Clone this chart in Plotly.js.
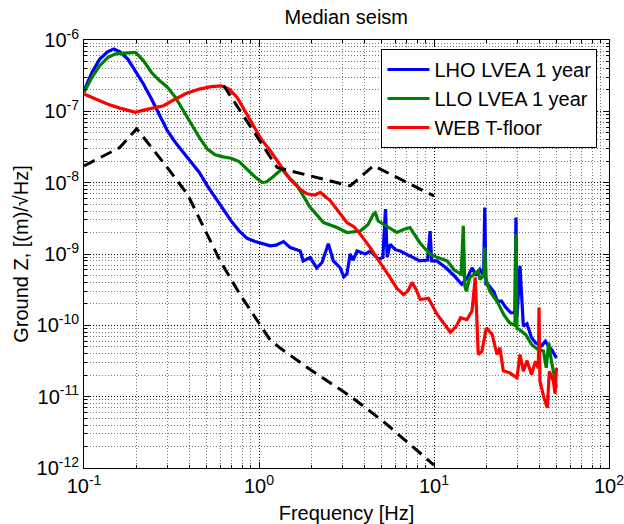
<!DOCTYPE html>
<html>
<head>
<meta charset="utf-8">
<script src="https://cdn.plot.ly/plotly-3.0.1.min.js"></script>
<style>html,body{margin:0;padding:0;background:#fff;}#chart{width:624px;height:524px;}</style>
</head>
<body>
<div id="chart"></div>
<script>
// ---- data (frequency in Hz, amplitude in m/sqrt(Hz)) ----
const lhoFreq = [0.1,0.111,0.123,0.137,0.148,0.16,0.178,0.197,0.219,0.243,0.27,0.3,0.333,0.37,0.411,0.456,0.507,0.562,0.624,0.693,0.77,0.855,0.95,1.05,1.16,1.25,1.38,1.51,1.72,1.79,1.96,2.14,2.29,2.49,2.66,2.91,3.05,3.18,3.32,3.45,3.63,4.05,4.32,4.8,5.1,5.28,5.4,5.62,6.0,6.41,7.3,8.3,9.2,9.5,9.7,10.4,11.7,13.0,14.4,15.5,16.5,17.4,18.3,19.2,19.5,19.8,20.3,21.9,23.1,24.3,25.6,27.5,29.0,29.4,29.8,31.0,32.4,34.0,36.0,38.0,41.1,43.3,44.5,46.9,50.1];
const lhoVal  = [1.95e-7,3.5e-7,5.4e-7,6.9e-7,7.5e-7,6.9e-7,5.4e-7,3.7e-7,2.4e-7,1.49e-7,8.7e-8,5.3e-8,3.66e-8,2.65e-8,1.92e-8,1.39e-8,9.0e-9,6.2e-9,4.24e-9,2.91e-9,2.11e-9,1.66e-9,1.5e-9,1.38e-9,1.30e-9,1.33e-9,1.49e-9,1.23e-9,1.10e-9,8.0e-10,8.9e-10,6.4e-10,7.6e-10,1.39e-9,8.0e-10,6.4e-10,4.8e-10,5.25e-10,1.0e-9,8.2e-10,1.10e-9,1.0e-9,1.10e-9,8.5e-10,8.9e-10,4.25e-9,9.0e-10,1.37e-9,1.15e-9,1.1e-9,9.4e-10,8.0e-10,8.2e-10,2.1e-9,8.0e-10,8.0e-10,6.4e-10,5.0e-10,3.76e-10,4.66e-10,6.4e-10,5.0e-10,6.1e-10,5.0e-10,4.48e-9,3.8e-10,3.76e-10,3.0e-10,2.15e-10,2.2e-10,1.8e-10,1.5e-10,1.5e-10,3.24e-9,1.3e-10,6.8e-10,9.7e-11,1.05e-10,6.8e-11,5.7e-11,5.15e-11,6.0e-11,5.4e-11,4.6e-11,3.5e-11];

const lloFreq = [0.1,0.111,0.123,0.137,0.152,0.178,0.197,0.219,0.243,0.27,0.3,0.333,0.37,0.411,0.456,0.507,0.562,0.624,0.693,0.77,0.855,0.95,1.04,1.1,1.19,1.35,1.45,1.65,1.96,2.34,2.79,3.18,3.79,4.2,4.5,4.62,4.8,5.15,5.6,6.14,6.7,7.3,8.3,9.5,10.5,11.9,13.0,14.3,14.7,15.0,15.3,16.0,17.4,17.9,18.3,19.3,19.5,19.8,20.8,23.1,25.0,27.0,29.0,29.4,29.8,30.6,33.3,36.1,39.1,42.2,43.8,45.2,46.9,50.1];
const lloVal  = [1.84e-7,3.0e-7,4.37e-7,5.7e-7,6.4e-7,6.5e-7,6.7e-7,5.1e-7,3.5e-7,2.7e-7,2.17e-7,1.57e-7,1.02e-7,6.6e-8,4.3e-8,2.95e-8,2.46e-8,2.3e-8,2.2e-8,1.98e-8,1.55e-8,1.2e-8,1.01e-8,1.02e-8,1.18e-8,1.55e-8,1.25e-8,9.1e-9,4.5e-9,2.76e-9,2.35e-9,2.0e-9,2.1e-9,2.6e-9,3.6e-9,3.8e-9,2.9e-9,2.6e-9,2.35e-9,2.0e-9,2.2e-9,2.35e-9,1.44e-9,9.9e-10,8.9e-10,8.0e-10,6.0e-10,5.2e-10,2.48e-9,3.6e-10,3.0e-10,4.66e-10,5.5e-10,5.8e-10,4.4e-10,5.0e-10,1.23e-9,4.5e-10,3.03e-10,2.1e-10,1.42e-10,1.09e-10,1.0e-10,1.9e-9,9.0e-11,8.8e-11,7.46e-11,5.4e-11,4.6e-11,4.35e-11,2.54e-11,5.7e-11,3.15e-11,1.33e-11];

const webFreq = [0.1,0.117,0.137,0.16,0.197,0.219,0.243,0.285,0.333,0.386,0.456,0.534,0.608,0.675,0.75,0.83,0.925,1.03,1.16,1.27,1.41,1.51,1.73,1.88,2.08,2.24,2.55,2.8,3.18,3.5,3.79,4.32,4.8,5.15,5.6,6.14,6.7,7.1,7.48,7.9,8.34,8.8,9.3,10.4,11.9,12.4,13.4,14.2,15.4,16.5,17.2,17.5,17.9,18.8,19.9,21.5,22.9,23.8,24.9,27.0,29.8,31.0,32.4,34.0,36.1,38.0,39.5,39.8,40.3,42.5,44.4,45.6,48.1,49.2,50.1];
const webVal  = [1.75e-7,1.49e-7,1.26e-7,1.11e-7,9.7e-8,1.04e-7,1.11e-7,1.2e-7,1.49e-7,1.79e-7,2.05e-7,2.22e-7,2.28e-7,2.05e-7,1.57e-7,1.02e-7,6.3e-8,4.07e-8,2.8e-8,2.02e-8,1.45e-8,1.1e-8,8.0e-9,7.0e-9,6.7e-9,7.3e-9,5.6e-9,4.2e-9,2.76e-9,2.4e-9,1.9e-9,1.23e-9,8.5e-10,6.4e-10,4.7e-10,3.3e-10,2.7e-10,3.03e-10,4.0e-10,3.2e-10,2.3e-10,2.35e-10,2.4e-10,1.43e-10,9.2e-11,8.0e-11,9.7e-11,1.28e-10,1.2e-10,1.6e-10,4.7e-10,1.5e-10,3.9e-11,4.35e-11,9.2e-11,7.46e-11,3.9e-11,4.85e-11,2.3e-11,2.16e-11,1.84e-11,3.9e-11,2.27e-11,3.2e-11,2.05e-11,3.15e-11,2.5e-11,1.77e-10,1.65e-11,9.6e-12,6.97e-12,2.27e-11,1.65e-11,1.1e-11,2.54e-11];

// dashed reference curves
const lowModelFreq = [0.1,0.16,0.2,0.29,0.39,0.48,0.6,0.78,1.0,1.16,1.32,1.96,3.32,5.13,10];
const lowModelVal  = [1.72e-8,3.1e-8,5.7e-8,1.8e-8,6.9e-9,2.4e-9,8.0e-10,2.7e-10,1.05e-10,6.2e-11,4.8e-11,2.4e-11,1.02e-11,4.5e-12,1.1e-12];
const highModelFreq = [0.628,0.782,1.27,3.32,4.51,10];
const highModelVal  = [2.3e-7,1.02e-7,1.63e-8,9.0e-9,1.73e-8,6.5e-9];

const seriesNames = ['LHO LVEA 1 year','LLO LVEA 1 year','WEB T-floor'];

const xTickVals = [0.1,1,10,100];
const xTickText = ['10<sup>-1</sup>','10<sup>0</sup>','10<sup>1</sup>','10<sup>2</sup>'];
const yTickVals = [1e-12,1e-11,1e-10,1e-9,1e-8,1e-7,1e-6];
const yTickText = ['10<sup>-12</sup>','10<sup>-11</sup>','10<sup>-10</sup>','10<sup>-9</sup>','10<sup>-8</sup>','10<sup>-7</sup>','10<sup>-6</sup>'];
const minorMult = [2,3,4,5,6,7,8,9];

// ---- build ----
function minorTicks(decades){
  const out=[];
  decades.forEach(d=>minorMult.forEach(m=>out.push(m*d)));
  return out;
}
const xMinor = minorTicks([0.1,1,10]);
const yMinor = minorTicks([1e-12,1e-11,1e-10,1e-9,1e-8,1e-7]);

const FONT = '"Liberation Sans", Arial, Helvetica, sans-serif';
const dashPattern = '12px,7px';

const traces = [
  {x: lhoFreq, y: lhoVal, name: seriesNames[0], mode:'lines', line:{color:'#0000ff', width:3.2}},
  {x: lloFreq, y: lloVal, name: seriesNames[1], mode:'lines', line:{color:'#008000', width:3.2}},
  {x: webFreq, y: webVal, name: seriesNames[2], mode:'lines', line:{color:'#ff0000', width:3.2}},
  {x: lowModelFreq, y: lowModelVal, mode:'lines', showlegend:false, line:{color:'#000', width:3, dash:dashPattern}},
  {x: highModelFreq, y: highModelVal, mode:'lines', showlegend:false, line:{color:'#000', width:3, dash:dashPattern}}
];

function axisCommon(tv, tt, minor){
  return {
    type:'log', tickmode:'array', tickvals: tv, ticktext: tt,
    ticks:'inside', ticklen:6, tickwidth:1, tickcolor:'#000',
    showline:true, linecolor:'#000', linewidth:1, mirror:'allticks',
    showgrid:true, gridcolor:'#000', gridwidth:1, griddash:'1px,2px',
    zeroline:false, ticklabeloverflow:'allow',
    tickfont:{family:FONT, size:20, color:'#000'},
    minor:{tickmode:'array', tickvals: minor, ticks:'inside', ticklen:3, tickcolor:'#000',
           showgrid:true, gridcolor:'#777', gridwidth:1, griddash:'1px,2px'}
  };
}

const layout = {
  width:624, height:524,
  margin:{l:84, r:15, t:40, b:56},
  paper_bgcolor:'#fff', plot_bgcolor:'#fff',
  font:{family:FONT, size:20, color:'#000'},
  title:{text:'Median seism', font:{family:FONT, size:20, color:'#000'}, x:0.555, xanchor:'center', y:0.967, yanchor:'middle'},
  xaxis: Object.assign(axisCommon(xTickVals, xTickText, xMinor), {range:[-1,2],
    title:{text:'Frequency [Hz]', font:{family:FONT, size:20, color:'#000'}, standoff:11}}),
  yaxis: Object.assign(axisCommon(yTickVals, yTickText, yMinor), {range:[-12,-6],
    title:{text:'Ground Z, [(m)/√Hz]', font:{family:FONT, size:20, color:'#000'}, standoff:2}}),
  legend:{x:0.978, xanchor:'right', y:0.979, yanchor:'top', bgcolor:'#fff', bordercolor:'#000', borderwidth:1,
          font:{family:FONT, size:20, color:'#000'}, tracegroupgap:0, itemwidth:42},
  showlegend:true
};

Plotly.newPlot('chart', traces, layout, {displayModeBar:false, staticPlot:true});
</script>
</body>
</html>
